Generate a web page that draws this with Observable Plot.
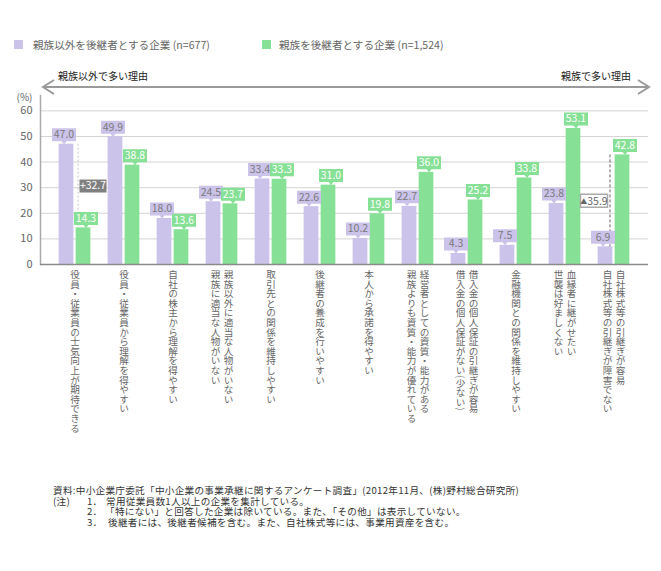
<!DOCTYPE html>
<html>
<head>
<meta charset="utf-8">
<script src="https://cdn.jsdelivr.net/npm/d3@7"></script>
<script src="https://cdn.jsdelivr.net/npm/@observablehq/plot@0.6"></script>
<style>
  html, body { margin: 0; padding: 0; background: #fff; }
  #wrap { position: relative; width: 661px; height: 571px; font-family: "Noto Sans CJK JP", "Noto Sans", sans-serif; }
  .abs { position: absolute; white-space: nowrap; }
  .leg { font-size: 10.6px; color: #666; line-height: 12px; }
  .sw { position: absolute; width: 9px; height: 9px; }
  .hdr { font-size: 10px; color: #222; line-height: 12px; }
  .note { position: absolute; left: 53px; font-size: 9.6px; letter-spacing: 0.3px; color: #333; line-height: 10px; white-space: nowrap; }
  .note span { display: inline-block; }
  text.vlabel { writing-mode: vertical-rl; text-orientation: mixed; }
</style>
</head>
<body>
<div id="wrap">
  <div class="sw" style="left:14px;top:40px;background:#cbc3ea"></div>
  <div class="abs leg" style="left:33px;top:39px">親族以外を後継者とする企業 (n=677)</div>
  <div class="sw" style="left:262px;top:40px;background:#86e095"></div>
  <div class="abs leg" style="left:279px;top:39px">親族を後継者とする企業 (n=1,524)</div>

  <svg class="abs" style="left:0;top:0" width="661" height="100">
    <line x1="43" y1="87" x2="649" y2="87" stroke="#9a9a9a" stroke-width="2"/>
    <polyline points="54,80 43,87 54,94" fill="none" stroke="#9a9a9a" stroke-width="2"/>
    <polyline points="638,80 649,87 638,94" fill="none" stroke="#9a9a9a" stroke-width="2"/>
  </svg>
  <div class="abs hdr" style="left:58px;top:70px">親族以外で多い理由</div>
  <div class="abs hdr" style="right:30px;top:70px">親族で多い理由</div>

  <div id="chart" class="abs" style="left:0;top:60px"></div>

  <div class="note" style="top:485px">資料:中小企業庁委託「中小企業の事業承継に関するアンケート調査」(2012年11月、(株)野村総合研究所)</div>
  <div class="note" style="top:495.5px"><span style="width:34px">(注)</span><span style="width:19px">1．</span>常用従業員数1人以上の企業を集計している。</div>
  <div class="note" style="top:506px"><span style="width:34px"></span><span style="width:18px">2．</span>「特にない」と回答した企業は除いている。また、「その他」は表示していない。</div>
  <div class="note" style="top:516.5px"><span style="width:34px"></span><span style="width:21px">3．</span>後継者には、後継者候補を含む。また、自社株式等には、事業用資産を含む。</div>
</div>
<script>
const categories = [
  "役員・従業員の士気向上が期待できる",
  "役員・従業員から理解を得やすい",
  "自社の株主から理解を得やすい",
  "親族以外に適当な人物がいない",
  "取引先との関係を維持しやすい",
  "後継者の養成を行いやすい",
  "本人から承諾を得やすい",
  "経営者としての資質・能力がある",
  "借入金の個人保証の引継ぎが容易",
  "金融機関との関係を維持しやすい",
  "血縁者に継がせたい",
  "自社株式等の引継ぎが容易"
];
const categorySecondLine = [
  "", "", "", "親族に適当な人物がいない", "", "", "",
  "親族よりも資質・能力が優れている",
  "借入金の個人保証がない(少ない)",
  "", "世襲は好ましくない", "自社株式等の引継ぎが障害でない"
];
const nonFamily = [47.0, 49.9, 18.0, 24.5, 33.4, 22.6, 10.2, 22.7, 4.3, 7.5, 23.8, 6.9];
const family = [14.3, 38.8, 13.6, 23.7, 33.3, 31.0, 19.8, 36.0, 25.2, 33.8, 53.1, 42.8];
const yTicks = [0, 10, 20, 30, 40, 50, 60];
const diffPositive = [categories[0]];   // 親族以外が多い差
const diffNegative = [categories[11]];  // 親族が多い差

const PURPLE = "#cbc3ea", GREEN = "#86e095";

const rows = categories.map((c, i) => ({
  c, l2: categorySecondLine[i], p: nonFamily[i], g: family[i]
}));
const fmtDiff = d => {
  const v = Math.round((d.p - d.g) * 10) / 10;
  return (v >= 0 ? "+" : "▲") + Math.abs(v).toFixed(1);
};
const posRows = rows.filter(d => diffPositive.includes(d.c));
const negRows = rows.filter(d => diffNegative.includes(d.c));

const callout = {draw(ctx) {
  ctx.moveTo(-12, -16); ctx.lineTo(12, -16); ctx.lineTo(12, -3);
  ctx.lineTo(2.5, -3); ctx.lineTo(0, 0); ctx.lineTo(-2.5, -3);
  ctx.lineTo(-12, -3); ctx.closePath();
}};
const annBox = {draw(ctx) {
  ctx.moveTo(-13.5, -6.5); ctx.lineTo(13.5, -6.5); ctx.lineTo(13.5, 6.5);
  ctx.lineTo(-13.5, 6.5); ctx.closePath();
}};

const BW = 49.27; // approx band step for insets
const half = BW / 2;
const labelOpts = {y: () => 0, dy: 5, textAnchor: "start", lineAnchor: "bottom", fill: "#666", fontSize: 9.6};

const chart = Plot.plot({
  width: 661,
  height: 390,
  marginTop: 35,
  marginBottom: 186,
  marginLeft: 40,
  marginRight: 13,
  style: {fontFamily: "'Noto Sans CJK JP', 'Noto Sans', sans-serif", fontSize: "11px", color: "#666", background: "transparent"},
  x: {type: "band", domain: categories, paddingInner: 0, paddingOuter: 0.17, axis: null},
  y: {domain: [0, 66], axis: null},
  marks: [
    Plot.gridY(yTicks, {stroke: "#d4d4d4", strokeOpacity: 1}),
    Plot.axisY(yTicks, {tickSize: 0, tickPadding: 8, fontSize: 11, fill: "#666", label: null}),
    Plot.frame({anchor: "left", stroke: "#aaa", strokeWidth: 1.5}),
    Plot.text(["(%)"], {frameAnchor: "top-left", text: d => d, dx: -8, dy: -2, textAnchor: "end", fontSize: 10, fill: "#666"}),
    Plot.barY(rows, {x: "c", y: "p", fill: PURPLE, insetLeft: half - 16, insetRight: half + 1}),
    Plot.barY(rows, {x: "c", y: "g", fill: GREEN, insetLeft: half + 1, insetRight: half - 16}),
    Plot.ruleY([0], {stroke: "#8a8a8a", strokeWidth: 1.5}),
    // difference guides
    Plot.ruleX(posRows, {x: "c", y1: "p", y2: "g", dx: 3, stroke: "#c4c4c4", strokeDasharray: "2,2"}),
    Plot.ruleX(negRows, {x: "c", y1: "g", y2: "p", dx: -4, stroke: "#666", strokeDasharray: "3,2"}),
    Plot.dot(posRows, {x: "c", y: d => (d.p + d.g) / 2, dx: 18, symbol: annBox, fill: "#808080", stroke: "none"}),
    Plot.text(posRows, {x: "c", y: d => (d.p + d.g) / 2, dx: 18, text: fmtDiff, fill: "#fff", fontSize: 10.5}),
    Plot.dot(negRows, {x: "c", y: d => (d.p + d.g) / 2, dx: -20, symbol: annBox, fill: "#fff", stroke: "#aaa"}),
    Plot.text(negRows, {x: "c", y: d => (d.p + d.g) / 2, dx: -20, text: fmtDiff, fill: "#666", fontSize: 10.5}),
    // value callouts
    Plot.dot(rows, {x: "c", y: "p", dx: -11, symbol: callout, fill: PURPLE, stroke: "none"}),
    Plot.text(rows, {x: "c", y: "p", dx: -11, dy: -9.5, text: d => d.p.toFixed(1), fill: "#7a7a7a", fontSize: 10.5}),
    Plot.dot(rows, {x: "c", y: "g", dx: 11, symbol: callout, fill: GREEN, stroke: "none"}),
    Plot.text(rows, {x: "c", y: "g", dx: 11, dy: -9.5, text: d => d.g.toFixed(1), fill: "#fff", fontSize: 10.5}),
    // category labels (vertical)
    Plot.text(rows.filter(d => !d.l2), {...labelOpts, x: "c", text: "c"}),
    Plot.text(rows.filter(d => d.l2), {...labelOpts, x: "c", dx: 6.5, text: "c"}),
    Plot.text(rows.filter(d => d.l2), {...labelOpts, x: "c", dx: -6.5, text: "l2"})
  ]
});
document.getElementById("chart").appendChild(chart);
const allLabels = new Set([...categories, ...categorySecondLine.filter(s => s)]);
d3.select(chart).selectAll("text")
  .filter(function() { return allLabels.has(this.textContent); })
  .classed("vlabel", true)
  .attr("writing-mode", "tb-rl")
  .style("writing-mode", "vertical-rl")
  .style("text-orientation", "mixed")
  .attr("y", null)
  .attr("dy", null);
d3.select(chart).selectAll("text")
  .filter(function() { return this.textContent.startsWith("▲"); })
  .each(function() {
    const rest = this.textContent.slice(1);
    this.textContent = "";
    d3.select(this).append("tspan").attr("font-size", "7px").attr("dy", "-0.1em").text("▲");
    d3.select(this).append("tspan").attr("dy", "0.1em").text(rest);
  });
</script>
</body>
</html>
